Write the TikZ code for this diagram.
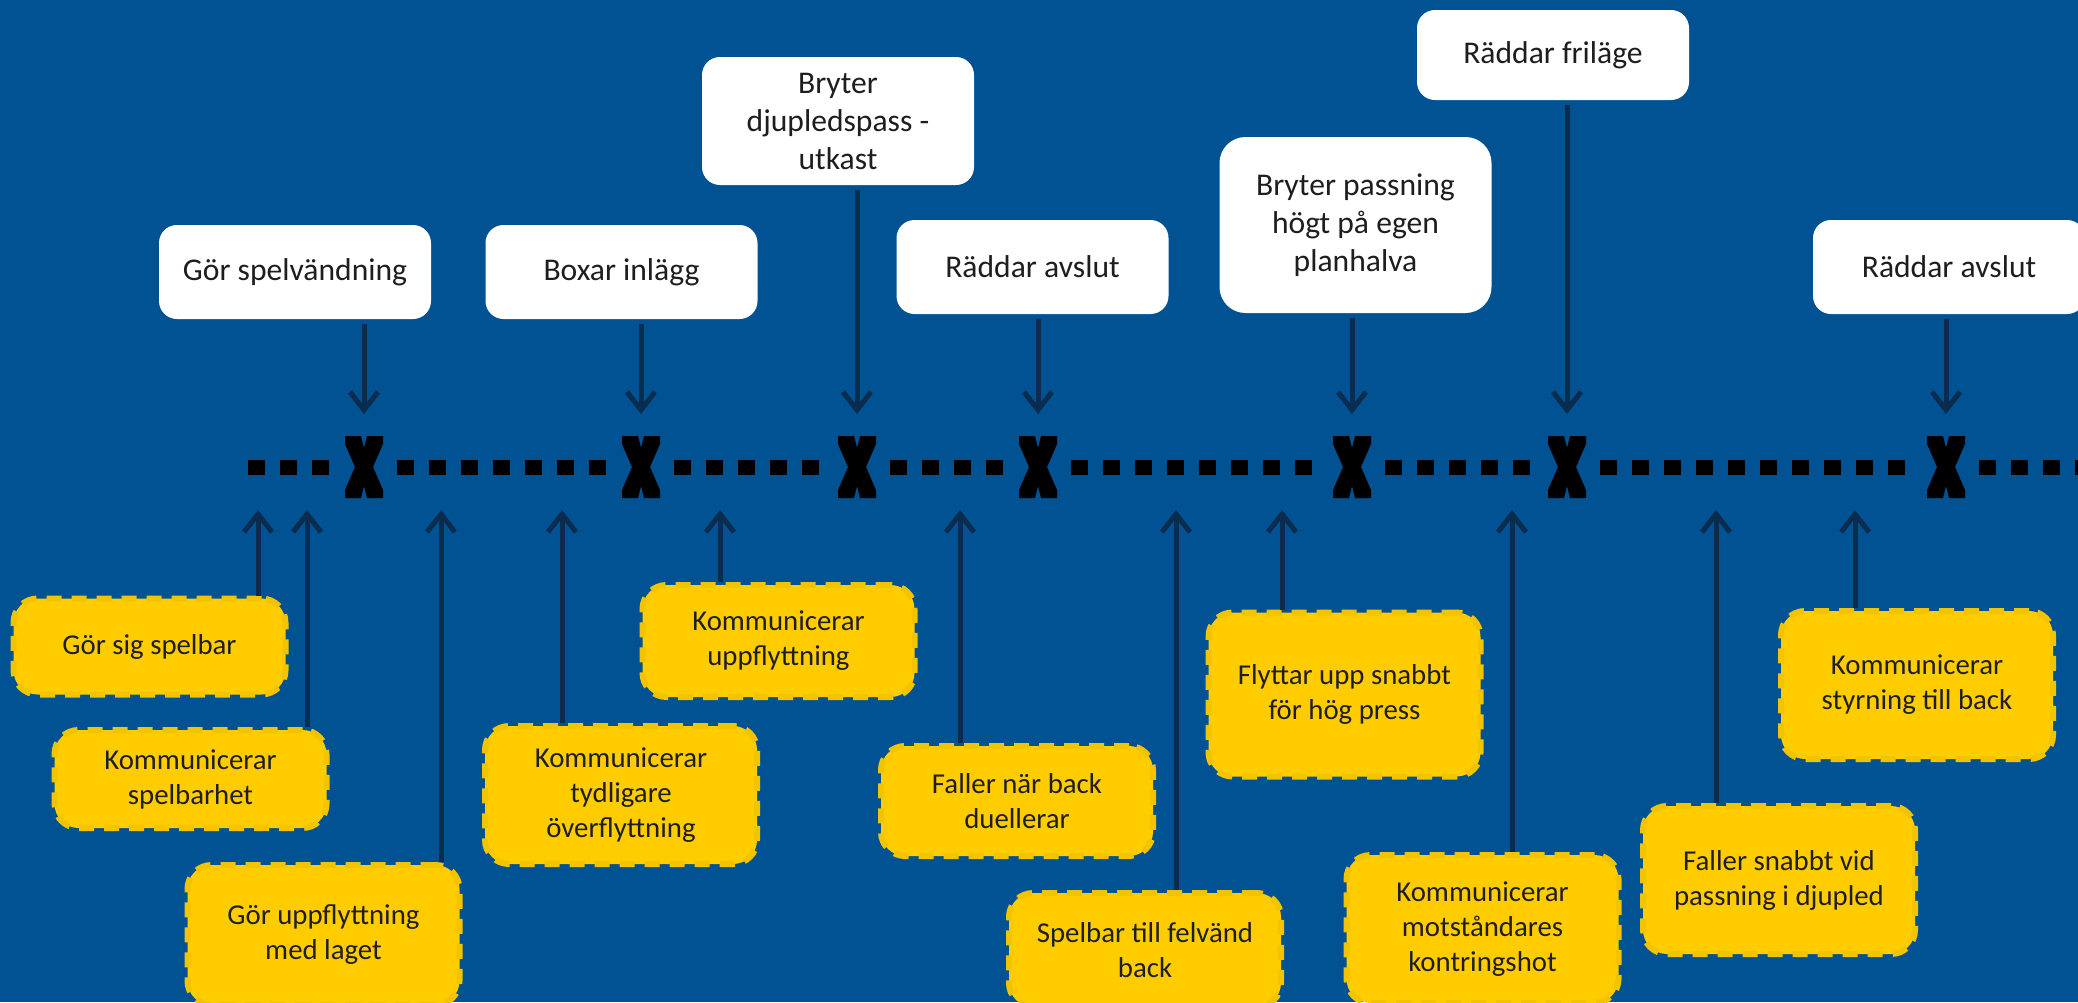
\documentclass[tikz,border=0pt]{standalone}
\usepackage{fontspec}
\setmainfont{Carlito}
\usetikzlibrary{arrows.meta}
\definecolor{bgblue}{RGB}{0,82,147}
\definecolor{navy}{RGB}{9,44,79}
\definecolor{ylw}{RGB}{255,204,0}
\definecolor{ylwb}{RGB}{242,196,0}
\definecolor{txt}{RGB}{30,30,30}
\tikzset{
  wbox/.style={fill=white, rounded corners=9pt, minimum width=136pt, minimum height=47pt,
    inner sep=0pt, align=center, text=txt, font=\fontsize{15.8}{19}\selectfont},
  ybox/.style={fill=ylw, draw=ylwb, line width=3pt, dash pattern=on 7.5pt off 5pt,
    rounded corners=12pt, minimum width=136pt, inner sep=0pt, align=center, text=txt,
    font=\fontsize{14.4}{17.5}\selectfont},
  arr/.style={draw=navy, line width=2.5pt, -{Straight Barb[length=9pt,width=14pt]}},
  dline/.style={line width=7.5pt, dash pattern=on 8.5pt off 7.5pt},
  xm/.style={minimum width=19pt, minimum height=31pt, inner sep=0pt, outer sep=0pt}
}
\begin{document}
\begin{tikzpicture}[x=0.5pt,y=-0.5pt]
\fill[bgblue] (0,0) rectangle (2078,1002);
\useasboundingbox (0,0) rectangle (2078,1002);
\clip (0,0) rectangle (2078,1002);

% X marks
\node[xm] (x1) at (364,467) {};
\node[xm] (x2) at (641,467) {};
\node[xm] (x3) at (857,467) {};
\node[xm] (x4) at (1038,467) {};
\node[xm] (x5) at (1352,467) {};
\node[xm] (x6) at (1567,467) {};
\node[xm] (x7) at (1946,467) {};
\foreach \i in {1,...,7}{
  \fill[black, shift={(x\i.center)}] (-19,-31) -- (-3,-31) -- (0,-19) -- (3,-31) -- (19,-31)
    -- (19,-23) -- (9,0) -- (19,23) -- (19,31) -- (3,31) -- (0,19) -- (-3,31) -- (-19,31)
    -- (-19,23) -- (-9,0) -- (-19,-23) -- cycle;
}

% dashed timeline
\coordinate (ls) at (248,467);
\coordinate (le) at (2100,467);
\draw[dline] (ls) -- ([xshift=-7.5pt]x1.west);
\foreach \a/\b in {1/2,2/3,3/4,4/5,5/6,6/7}
  \draw[dline] ([xshift=7pt]x\a.east) -- ([xshift=-6pt]x\b.west);
\draw[dline] ([xshift=7pt]x7.east) -- (le);

% white boxes
\node[wbox] (w1) at (295,272) {Gör spelvändning};
\node[wbox] (w2) at (621.5,272) {Boxar inlägg};
\node[wbox, minimum height=64pt] (w3) at (838,121) {Bryter\\djupledspass -\\utkast};
\node[wbox] (w4) at (1032.5,267) {Räddar avslut};
\node[wbox, minimum height=88pt, rounded corners=13pt] (w5) at (1355.5,225) {Bryter passning\\högt på egen\\planhalva};
\node[wbox, minimum height=45pt] (w6) at (1553,55) {Räddar friläge};
\node[wbox] (w7) at (1949,267) {Räddar avslut};

% down arrows
\foreach \w/\x in {w1/x1,w2/x2,w3/x3,w4/x4,w5/x5,w6/x6,w7/x7}
  \draw[arr] ([yshift=-2.5pt]\w.south -| \x) -- ([yshift=11pt]\x.north);

% yellow boxes
\node[ybox, minimum height=48pt] (y1) at (149.5,646.5) {Gör sig spelbar};
\node[ybox, minimum height=49pt] (y2) at (190.5,779) {Kommunicerar\\spelbarhet};
\node[ybox, minimum height=70pt] (y3) at (323.5,935) {Gör uppflyttning\\med laget};
\node[ybox, minimum height=69pt] (y4) at (621,795) {Kommunicerar\\tydligare\\överflyttning};
\node[ybox, minimum height=56pt] (y5) at (778.5,641) {Kommunicerar\\uppflyttning};
\node[ybox, minimum height=55pt] (y6) at (1017,801) {Faller när back\\duellerar};
\node[ybox, minimum height=57pt] (y7) at (1145,950) {Spelbar till felvänd\\back};
\node[ybox, minimum height=82pt] (y8) at (1344.5,694.5) {Flyttar upp snabbt\\för hög press};
\node[ybox, minimum height=74pt] (y9) at (1482.5,929) {Kommunicerar\\motståndares\\kontringshot};
\node[ybox, minimum height=74pt] (y10) at (1779,880) {Faller snabbt vid\\passning i djupled};
\node[ybox, minimum height=74pt] (y11) at (1917,685) {Kommunicerar\\styrning till back};

% up arrow targets
\coordinate (u1) at (258,510);
\coordinate (u2) at (307,510);
\coordinate (u3) at (441,510);
\coordinate (u4) at (562,510);
\coordinate (u5) at (720,510);
\coordinate (u6) at (960,510);
\coordinate (u7) at (1176,510);
\coordinate (u8) at (1282,510);
\coordinate (u9) at (1512,510);
\coordinate (u10) at (1716,510);
\coordinate (u11) at (1855,510);
\foreach \i in {1,...,11}
  \draw[arr] (y\i.north -| u\i) -- (u\i);
\end{tikzpicture}
\end{document}
